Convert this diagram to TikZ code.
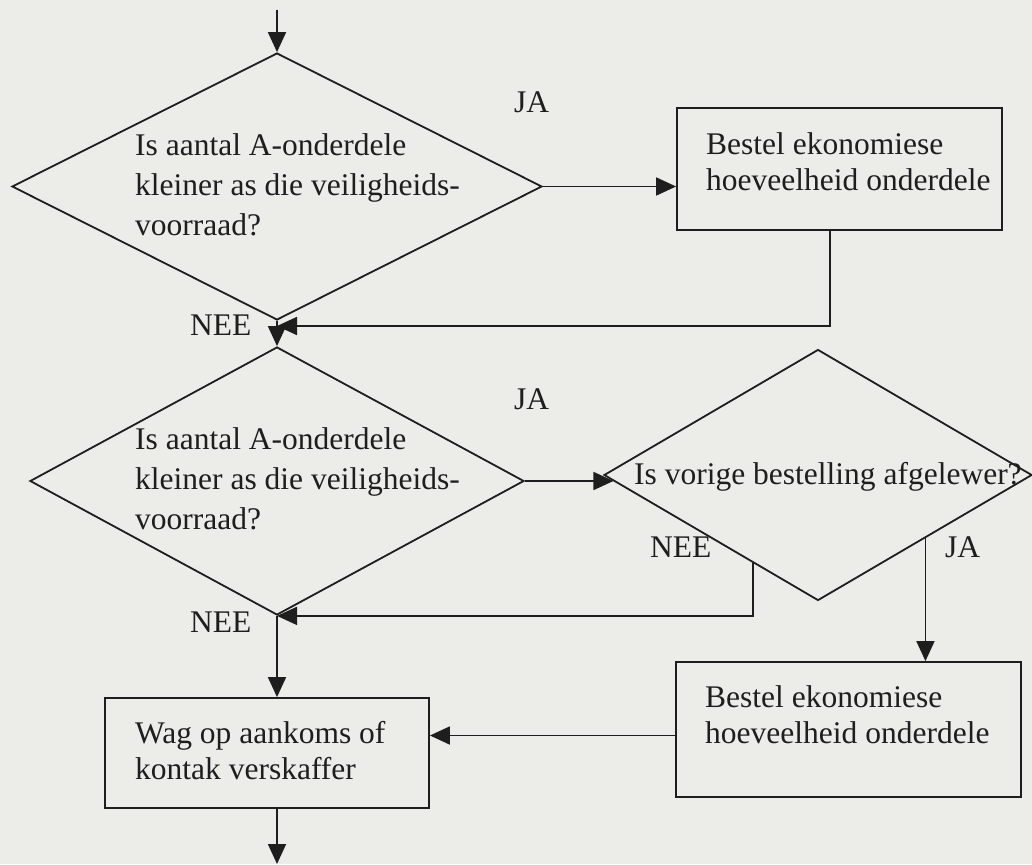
\documentclass[tikz,border=0pt]{standalone}
\usepackage{fontspec}
\setmainfont{Liberation Serif}
\usetikzlibrary{shapes.geometric,arrows.meta,calc}
\definecolor{paper}{RGB}{236,236,233}
\definecolor{ink}{RGB}{30,30,30}
% stacked lines whose baseline is the first line's
\newcommand\twolines[2]{\vtop{\hbox{#1}\hbox{#2}}}
\newcommand\threelines[3]{\vtop{\baselineskip=40pt\hbox{#1}\hbox{#2}\hbox{#3}}}
\begin{document}
\begin{tikzpicture}[x=1pt,y=-1pt,
  decision/.style={shape=diamond, draw=ink, line width=1.8pt, inner sep=0pt},
  process/.style={shape=rectangle, draw=ink, line width=1.8pt, inner sep=0pt},
  txt/.style={anchor=base west, inner sep=0pt, text=ink,
              font=\fontsize{31.5}{36.5}\selectfont},
  flow/.style={draw=ink, line width=1.8pt, -{Triangle[length=20pt,width=18pt]}}
]
\fill[paper] (0,0) rectangle (1032,864);
\useasboundingbox (0,0) rectangle (1032,864);

% shapes
\node[decision, minimum width=530pt, minimum height=267pt] (d1) at (277,186.5) {};
\node[decision, minimum width=494pt, minimum height=268pt] (d2) at (277,481) {};
\node[decision, minimum width=428pt, minimum height=251pt] (d3) at (818,475) {};
\node[process, minimum width=325pt, minimum height=122pt] (b1) at (839.5,169) {};
\node[process, minimum width=345pt, minimum height=135pt] (b3) at (848.5,729.5) {};
\node[process, minimum width=324pt, minimum height=110pt] (b2) at (267,753) {};

% texts
\node[txt] (t1) at (135,155) {\threelines{Is aantal A-onderdele}{kleiner as die veiligheids-}{voorraad?}};
\node[txt] (t2) at (135,449) {\threelines{Is aantal A-onderdele}{kleiner as die veiligheids-}{voorraad?}};
\node[txt] (t3) at (634,484) {Is vorige bestelling afgelewer?};
\node[txt] (tb1) at (706,154) {\twolines{Bestel ekonomiese}{hoeveelheid onderdele}};
\node[txt] (tb3) at (705,707) {\twolines{Bestel ekonomiese}{hoeveelheid onderdele}};
\node[txt] (tb2) at (135,743) {\twolines{Wag op aankoms of}{kontak verskaffer}};

% branch labels
\node[txt] (ja1) at (514,113) {JA};
\node[txt] (nee1) at (190,335) {NEE};
\node[txt] (ja2) at (514,409) {JA};
\node[txt] (nee2) at (190,632) {NEE};
\node[txt] (nee3) at (650,557) {NEE};
\node[txt] (ja3) at (945,557) {JA};

% connector ends
\coordinate (start) at (277,10);
\coordinate (end) at (277,864);
\coordinate (j1) at (277,326);
\coordinate (b1out) at ([xshift=-9.5pt]b1.south);
\coordinate (d3in) at ($(d3.west)!0.048!(d3.south)$);
\coordinate (nb) at ($(d3.west)!0.696!(d3.south)$);
\coordinate (jb) at ($(d3.south)!0.5!(d3.east)$);

% connectors
\draw[flow] (start) -- (d1.north);
\draw[flow] (d1.east) -- (d1.east -| b1.west);
\draw[flow] (b1out) |- (j1);
\draw[flow] (d1.south) -- (d2.north);
\draw[flow] (d2.east) -- (d2.east -| d3in);
\draw[flow] (nb) |- (d2.south);
\draw[flow] (jb) -- (jb |- b3.north);
\draw[flow] (d2.south) -- (d2.south |- b2.north);
\draw[flow] ([yshift=-6pt]b3.west) -- ([yshift=-6pt]b3.west -| b2.east);
\draw[flow] (d2.south |- b2.south) -- (end);
\end{tikzpicture}
\end{document}
